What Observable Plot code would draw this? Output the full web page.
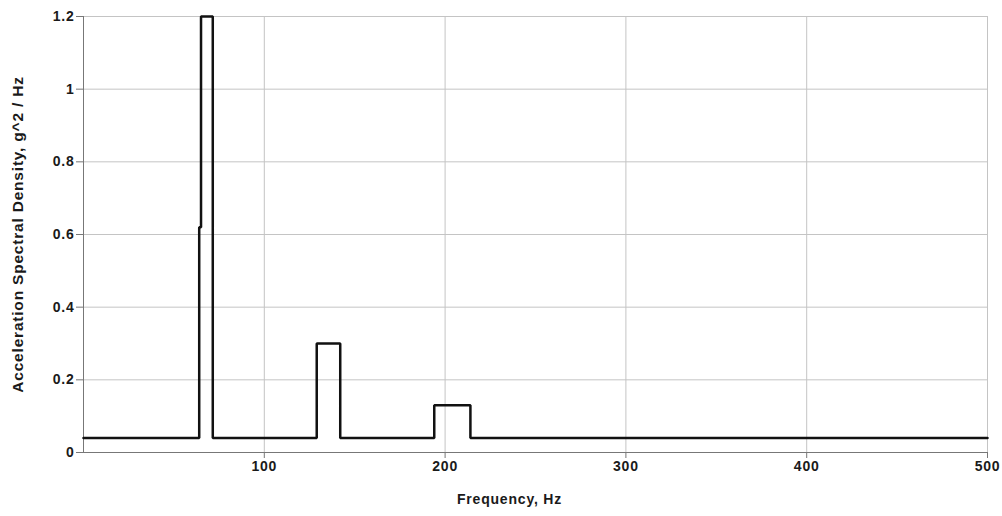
<!DOCTYPE html>
<html>
<head>
<meta charset="utf-8">
<script src="https://cdn.jsdelivr.net/npm/d3@7"></script>
<script src="https://cdn.jsdelivr.net/npm/@observablehq/plot@0.6"></script>
<style>
  html, body { margin: 0; padding: 0; background: #fff; }
  #chart svg { display: block; }
</style>
</head>
<body>
<div id="chart"></div>
<script>
// Breakpoints of the acceleration PSD profile (frequency in Hz, level in g^2/Hz)
const freqHz = [0, 64, 64, 65, 65, 71.5, 71.5, 129, 129, 142, 142, 194, 194, 214, 214, 500];
const psdLevel = [0.04, 0.04, 0.62, 0.62, 1.2, 1.2, 0.04, 0.04, 0.3, 0.3, 0.04, 0.04, 0.13, 0.13, 0.04, 0.04];

// Axis ticks and titles
const xTicks = [100, 200, 300, 400, 500];
const yTicks = [0, 0.2, 0.4, 0.6, 0.8, 1, 1.2];
const xTitle = ["Frequency, Hz"];
const yTitle = ["Acceleration Spectral Density, g^2 / Hz"];

const profile = freqHz.map((f, i) => ({f, g: psdLevel[i]}));

const font = "'Liberation Sans', Arial, sans-serif";

const chart = Plot.plot({
  width: 1002,
  height: 516,
  marginLeft: 83,
  marginRight: 15,
  marginTop: 16,
  marginBottom: 64,
  style: {fontFamily: font, fontSize: "14px", fontWeight: "bold", letterSpacing: "0.8px", color: "#1a1a1a", background: "#fff"},
  x: {domain: [0, 500]},
  y: {domain: [0, 1.2]},
  marks: [
    Plot.gridX(xTicks, {stroke: "#c4c4c4", strokeOpacity: 1, strokeWidth: 1}),
    Plot.gridY(yTicks, {stroke: "#c4c4c4", strokeOpacity: 1, strokeWidth: 1}),
    Plot.axisX(xTicks, {
      tickSize: 6, tickPadding: 3, stroke: "#777",
      tickFormat: d => String(d), label: null
    }),
    Plot.axisY(yTicks, {
      tickSize: 7, tickPadding: 2, stroke: "#777",
      tickFormat: d => d3.format("~g")(d), label: null
    }),
    Plot.ruleY([0], {stroke: "#777", strokeWidth: 1}),
    Plot.ruleX([0], {stroke: "#777", strokeWidth: 1}),
    Plot.line(profile, {x: "f", y: "g", stroke: "#111", strokeWidth: 2.5, curve: "linear", strokeLinejoin: "miter"}),
    // axis titles
    Plot.text(xTitle, {frameAnchor: "bottom", textAnchor: "middle", dx: -26, dy: 51, fontSize: 14, fontWeight: "bold", fill: "#1a1a1a"}),
    Plot.text(yTitle, {frameAnchor: "left", textAnchor: "middle", lineAnchor: "middle", rotate: -90, dx: -65, fontSize: 15.5, fontWeight: "bold", fill: "#1a1a1a"})
  ]
});

document.getElementById("chart").append(chart);
</script>
</body>
</html>
